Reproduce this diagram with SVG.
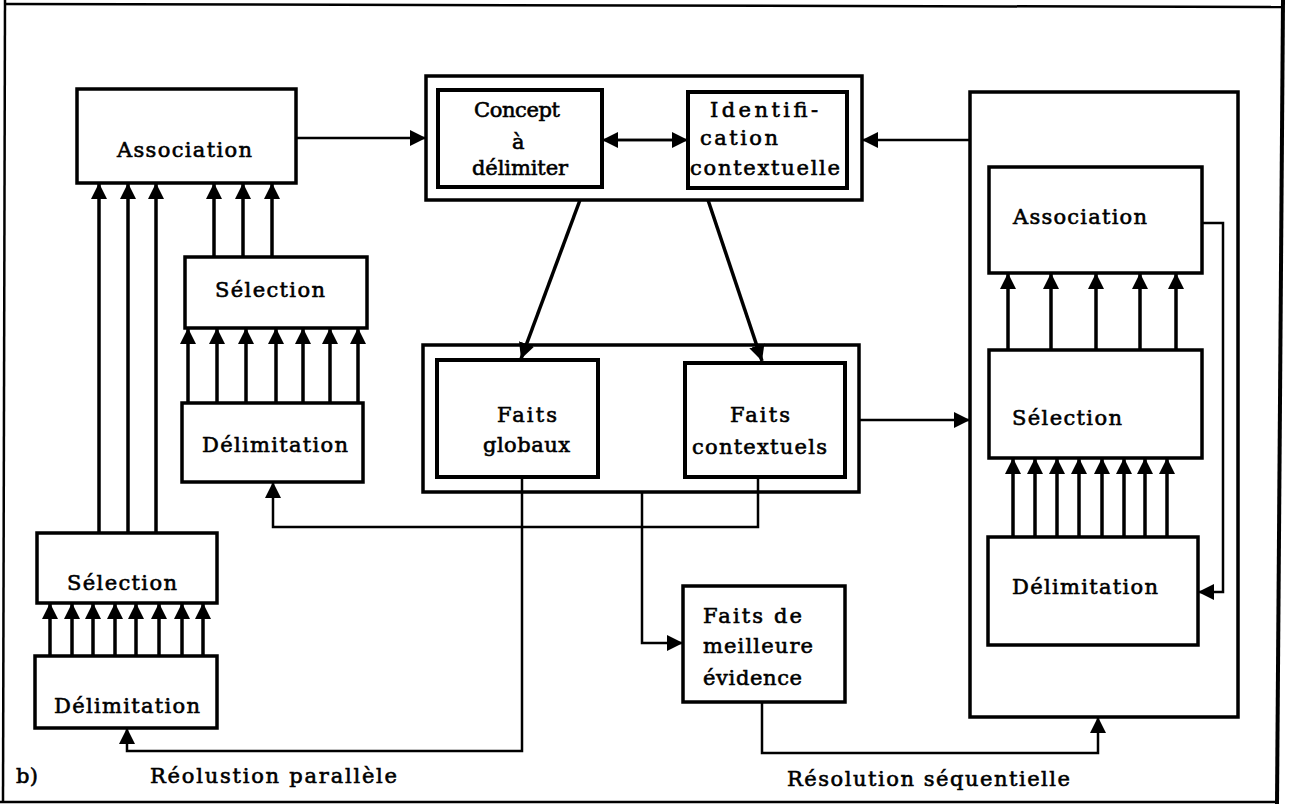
<svg xmlns="http://www.w3.org/2000/svg" width="1302" height="806" viewBox="0 0 1302 806">
<defs>
<marker id="ah" viewBox="0 0 16 16" refX="16" refY="8" markerWidth="16" markerHeight="16" markerUnits="userSpaceOnUse" orient="auto"><path d="M0,0 L16,8 L0,16 z" fill="#000"/></marker>
</defs>
<style>
.box{fill:#fff;stroke:#000;stroke-width:3.5}
.thick{fill:#fff;stroke:#000;stroke-width:4}
.t{font-family:"DejaVu Serif","Liberation Serif",serif;font-size:21px;fill:#000;stroke:#000;stroke-width:0.6}
.ar{fill:none;stroke:#000;stroke-width:3.5;marker-end:url(#ah)}
.ah{fill:none;stroke:#000;stroke-width:2.5;marker-end:url(#ah)}
.fr{fill:none;stroke:#000;stroke-width:2.5}
</style>
<rect width="1302" height="806" fill="#fff"/>
<g id="frame">
<path class="fr" d="M4,4 L1283,7"/>
<path class="fr" d="M5,0 L3,802"/>
<path class="fr" d="M0,802 L1277,802"/>
<path fill="none" stroke="#000" stroke-width="4" d="M1283,0 L1277,804"/>
</g>

<g id="assoc-left"><rect class="box" x="77" y="89" width="219" height="94"/><text class="t" x="117" y="157" textLength="135" lengthAdjust="spacing">Association</text></g>
<g id="sel-mid"><rect class="box" x="185" y="257" width="182" height="71"/><text class="t" x="215" y="297" textLength="110" lengthAdjust="spacing">Sélection</text></g>
<g id="delim-mid"><rect class="box" x="182" y="403" width="181" height="79"/><text class="t" x="202" y="452" textLength="146" lengthAdjust="spacing">Délimitation</text></g>
<g id="sel-low"><rect class="box" x="37" y="533" width="180" height="70"/><text class="t" x="67" y="590" textLength="110" lengthAdjust="spacing">Sélection</text></g>
<g id="delim-low"><rect class="box" x="35" y="656" width="182" height="72"/><text class="t" x="54" y="713" textLength="146" lengthAdjust="spacing">Délimitation</text></g>

<g id="concept-group"><rect class="box" x="426" y="76" width="436" height="124"/></g>
<g id="concept"><rect class="thick" x="438" y="90" width="164" height="97"/><text class="t" x="474" y="117" textLength="86" lengthAdjust="spacing">Concept</text><text class="t" x="512" y="149">à</text><text class="t" x="472" y="175" textLength="96" lengthAdjust="spacing">délimiter</text></g>
<g id="identification"><rect class="thick" x="688" y="92" width="159" height="96"/><text class="t" x="710" y="117" textLength="108" lengthAdjust="spacing">Identifi-</text><text class="t" x="700" y="145" textLength="78" lengthAdjust="spacing">cation</text><text class="t" x="690" y="175" textLength="150" lengthAdjust="spacing">contextuelle</text></g>

<g id="faits-group"><rect class="box" x="423" y="345" width="436" height="147"/></g>
<g id="faits-globaux"><rect class="thick" x="437" y="360" width="161" height="117"/><text class="t" x="497" y="422" textLength="60" lengthAdjust="spacing">Faits</text><text class="t" x="483" y="452" textLength="87" lengthAdjust="spacing">globaux</text></g>
<g id="faits-contextuels"><rect class="thick" x="685" y="363" width="160" height="114"/><text class="t" x="730" y="422" textLength="60" lengthAdjust="spacing">Faits</text><text class="t" x="692" y="454" textLength="135" lengthAdjust="spacing">contextuels</text></g>
<g id="meilleure"><rect class="box" x="683" y="586" width="162" height="116"/><text class="t" x="703" y="623" textLength="99" lengthAdjust="spacing">Faits de</text><text class="t" x="703" y="653" textLength="110" lengthAdjust="spacing">meilleure</text><text class="t" x="703" y="685" textLength="99" lengthAdjust="spacing">évidence</text></g>

<g id="seq-group"><rect class="box" x="970" y="92" width="268" height="625"/></g>
<g id="assoc-right"><rect class="box" x="989" y="167" width="213" height="106"/><text class="t" x="1013" y="224" textLength="134" lengthAdjust="spacing">Association</text></g>
<g id="sel-right"><rect class="box" x="989" y="350" width="213" height="108"/><text class="t" x="1012" y="425" textLength="110" lengthAdjust="spacing">Sélection</text></g>
<g id="delim-right"><rect class="box" x="988" y="537" width="210" height="108"/><text class="t" x="1012" y="594" textLength="146" lengthAdjust="spacing">Délimitation</text></g>

<g id="labels">
<text class="t" x="16" y="783" textLength="22" lengthAdjust="spacing">b)</text>
<text class="t" x="150" y="783" textLength="247" lengthAdjust="spacing">Réolustion parallèle</text>
<text class="t" x="787" y="786" textLength="283" lengthAdjust="spacing">Résolution séquentielle</text>
</g>

<g id="connectors">
<path class="ar" d="M99,533 V183"/><path class="ar" d="M128,533 V183"/><path class="ar" d="M156,533 V183"/>
<path class="ar" d="M214,257 V183"/><path class="ar" d="M243,257 V183"/><path class="ar" d="M272,257 V183"/>
<path class="ar" d="M188,403 V328"/><path class="ar" d="M217,403 V328"/><path class="ar" d="M246,403 V328"/><path class="ar" d="M276,403 V328"/><path class="ar" d="M303,403 V328"/><path class="ar" d="M330,403 V328"/><path class="ar" d="M358,403 V328"/>
<path class="ar" d="M50,656 V603"/><path class="ar" d="M72,656 V603"/><path class="ar" d="M93,656 V603"/><path class="ar" d="M115,656 V603"/><path class="ar" d="M136,656 V603"/><path class="ar" d="M159,656 V603"/><path class="ar" d="M182,656 V603"/><path class="ar" d="M203,656 V603"/>
<path class="ar" d="M1008,350 V273"/><path class="ar" d="M1051,350 V273"/><path class="ar" d="M1096,350 V273"/><path class="ar" d="M1140,350 V273"/><path class="ar" d="M1176,350 V273"/>
<path class="ar" d="M1013,537 V458"/><path class="ar" d="M1035,537 V458"/><path class="ar" d="M1057,537 V458"/><path class="ar" d="M1079,537 V458"/><path class="ar" d="M1102,537 V458"/><path class="ar" d="M1124,537 V458"/><path class="ar" d="M1145,537 V458"/><path class="ar" d="M1167,537 V458"/>
<path class="ah" d="M1202,223 H1223 V592 H1198"/>
<path class="ah" d="M296,138 H426"/>
<path class="ah" d="M970,140 H862"/>
<path class="ah" d="M618,140 H688"/>
<path class="ah" d="M672,140 H602"/>
<path class="ah" d="M859,420 H970"/>
<path class="ar" d="M580,200 L521,359"/>
<path class="ar" d="M708,200 L762,361"/>
<path class="ah" d="M522,477 V751 H127 V728"/>
<path class="ah" d="M758,477 V527 H273 V482"/>
<path class="ah" d="M642,492 V643 H683"/>
<path class="ah" d="M762,702 V753 H1098 V717"/>
</g>
</svg>
